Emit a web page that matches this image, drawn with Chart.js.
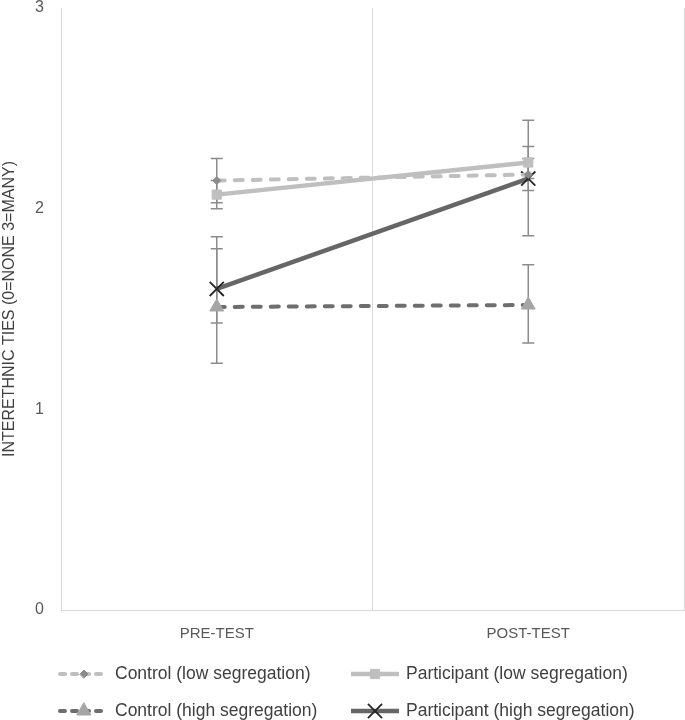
<!DOCTYPE html>
<html>
<head>
<meta charset="utf-8">
<script src="https://cdn.jsdelivr.net/npm/chart.js@4.4.0/dist/chart.umd.min.js"></script>
<style>
  body { margin: 0; background: #fff; }
  canvas { display: block; }
</style>
</head>
<body>
<canvas id="chart" width="685" height="720"></canvas>
<script>
// === DATA ===
const categories = ["PRE-TEST", "POST-TEST"];

const controlLow = [2.14, 2.17];
const controlLowErrUp = [0.11, 0.08];
const controlLowErrDown = [0.11, 0.08];

const participantLow = [2.07, 2.23];
const participantLowErrUp = [0.07, 0.08];
const participantLowErrDown = [0.07, 0.08];

const controlHigh = [1.51, 1.52];
const controlHighErrUp = [0.35, 0.20];
const controlHighErrDown = [0.28, 0.19];

const participantHigh = [1.60, 2.15];
const participantHighErrUp = [0.20, 0.29];
const participantHighErrDown = [0.17, 0.285];

const yTicks = [0, 1, 2, 3];

const FONT = '"Liberation Sans", Arial, sans-serif';
const TEXT = "#595959";
const GRID = "#d9d9d9";

// === ERROR BARS ===
const errorBars = {
    id: "errorBars",
    beforeDatasetsDraw(chart) {
        const ctx = chart.ctx;
        const yScale = chart.scales.y;
        ctx.save();
        ctx.strokeStyle = "#8c8c8c";
        ctx.lineWidth = 1.5;
        chart.data.datasets.forEach((ds, i) => {
            const meta = chart.getDatasetMeta(i);
            meta.data.forEach((pt, j) => {
                const v = ds.data[j];
                const top = yScale.getPixelForValue(v + ds.errUp[j]);
                const bot = yScale.getPixelForValue(v - ds.errDown[j]);
                ctx.beginPath();
                ctx.moveTo(pt.x, top);
                ctx.lineTo(pt.x, bot);
                ctx.moveTo(pt.x - 6, top);
                ctx.lineTo(pt.x + 6, top);
                ctx.moveTo(pt.x - 6, bot);
                ctx.lineTo(pt.x + 6, bot);
                ctx.stroke();
            });
        });
        ctx.restore();
    }
};

// === LEGEND (two columns under the plot) ===
const sampleLegend = {
    id: "sampleLegend",
    afterDraw(chart) {
        const ctx = chart.ctx;
        const cols = [58, 349];
        const rows = [674, 711];
        chart.data.datasets.forEach((ds, i) => {
            const x = cols[i % 2];
            const y = rows[Math.floor(i / 2)];
            ctx.save();
            ctx.strokeStyle = ds.borderColor;
            ctx.lineWidth = ds.borderWidth;
            ctx.lineCap = ds.borderCapStyle || "butt";
            ctx.setLineDash(ds.borderDash ? [5, 7] : []);
            ctx.beginPath();
            ctx.moveTo(x + 2, y);
            ctx.lineTo(x + 50, y);
            ctx.stroke();
            ctx.setLineDash([]);
            ctx.fillStyle = ds.pointBackgroundColor;
            ctx.strokeStyle = ds.pointBorderColor;
            ctx.lineWidth = ds.pointBorderWidth;
            Chart.helpers.drawPoint(ctx, {
                pointStyle: ds.pointStyle,
                radius: ds.pointRadius,
                rotation: 0,
                borderWidth: ds.pointBorderWidth
            }, x + 26, y);
            ctx.fillStyle = "#404040";
            ctx.font = "17.5px " + FONT;
            ctx.textBaseline = "middle";
            ctx.fillText(ds.label, x + 57, y);
            ctx.restore();
        });
    }
};

new Chart(document.getElementById("chart"), {
    type: "line",
    data: {
        labels: categories,
        datasets: [
            {
                label: "Control (low segregation)",
                data: controlLow,
                errUp: controlLowErrUp,
                errDown: controlLowErrDown,
                borderColor: "#bfbfbf",
                borderWidth: 4,
                borderDash: [8, 10],
                borderCapStyle: "round",
                pointStyle: "rectRot",
                pointRadius: 4,
                pointBackgroundColor: "#8c8c8c",
                pointBorderColor: "#8c8c8c",
                pointBorderWidth: 1
            },
            {
                label: "Participant (low segregation)",
                data: participantLow,
                errUp: participantLowErrUp,
                errDown: participantLowErrDown,
                borderColor: "#bfbfbf",
                borderWidth: 4.5,
                pointStyle: "rect",
                pointRadius: 6.5,
                pointBackgroundColor: "#bfbfbf",
                pointBorderColor: "#bfbfbf",
                pointBorderWidth: 1
            },
            {
                label: "Control (high segregation)",
                data: controlHigh,
                errUp: controlHighErrUp,
                errDown: controlHighErrDown,
                borderColor: "#6e6e6e",
                borderWidth: 4,
                borderDash: [8, 10],
                borderCapStyle: "round",
                pointStyle: "triangle",
                pointRadius: 8,
                pointBackgroundColor: "#a5a5a5",
                pointBorderColor: "#a5a5a5",
                pointBorderWidth: 1
            },
            {
                label: "Participant (high segregation)",
                data: participantHigh,
                errUp: participantHighErrUp,
                errDown: participantHighErrDown,
                borderColor: "#666666",
                borderWidth: 4.5,
                pointStyle: "crossRot",
                pointRadius: 10,
                pointBackgroundColor: "#262626",
                pointBorderColor: "#262626",
                pointBorderWidth: 1.8
            }
        ]
    },
    options: {
        responsive: false,
        animation: false,
        layout: { autoPadding: false, padding: { top: 8, right: 1, bottom: 80, left: 0 } },
        plugins: {
            legend: { display: false },
            tooltip: { enabled: false }
        },
        scales: {
            x: {
                offset: true,
                grid: { offset: true, color: GRID, lineWidth: 1, drawTicks: false },
                border: { color: GRID, width: 1 },
                ticks: { color: TEXT, font: { family: FONT, size: 15 }, padding: 15 },
                afterFit(scale) {
                    scale.height = 30;
                    scale.paddingLeft = 0;
                    scale.paddingRight = 0;
                }
            },
            y: {
                min: 0,
                max: 3,
                afterBuildTicks(scale) { scale.ticks = yTicks.map(v => ({ value: v })); },
                grid: { display: false, drawTicks: false },
                border: { color: GRID, width: 1 },
                ticks: { color: TEXT, font: { family: FONT, size: 16 }, padding: 17 },
                title: {
                    display: true,
                    text: "INTERETHNIC TIES (0=NONE 3=MANY)",
                    color: "#404040",
                    font: { family: FONT, size: 16 },
                    padding: 0
                },
                afterFit(scale) {
                    scale.width = 61;
                    scale.paddingTop = 0;
                    scale.paddingBottom = 0;
                }
            }
        }
    },
    plugins: [errorBars, sampleLegend]
});
</script>
</body>
</html>
